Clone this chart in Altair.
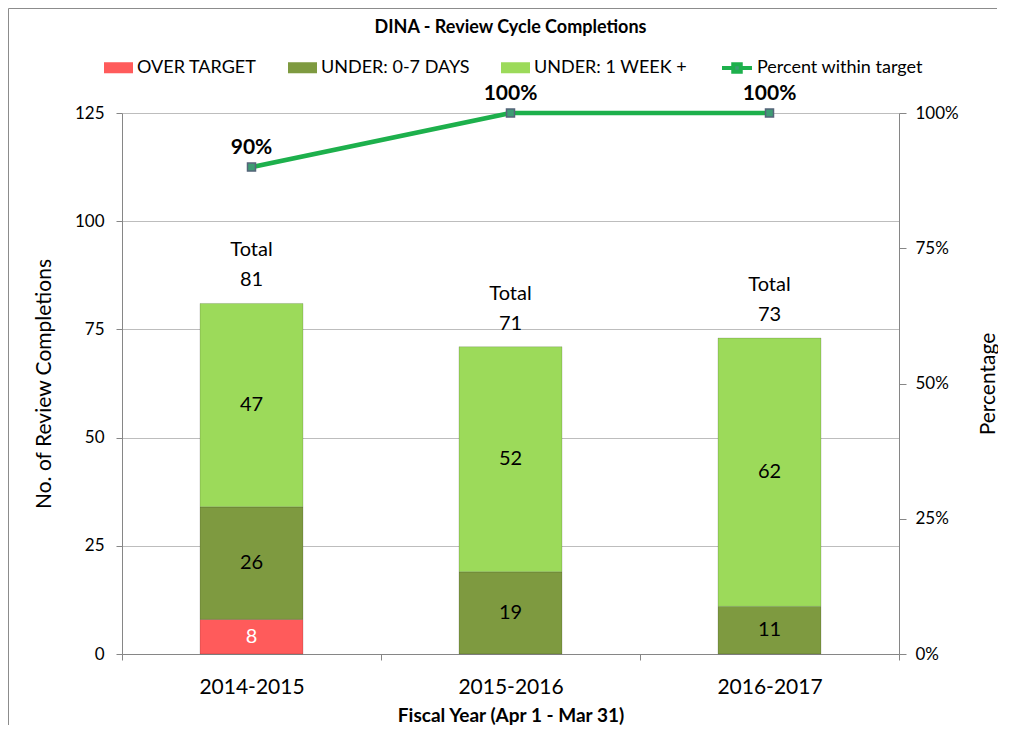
import altair as alt
import pandas as pd

# ---- data ----
years = ["2014-2015", "2015-2016", "2016-2017"]
categories = ["OVER TARGET", "UNDER: 0-7 DAYS", "UNDER: 1 WEEK +"]
over_target = [8, 0, 0]
under_0_7_days = [26, 19, 11]
under_1_week = [47, 52, 62]
totals = [81, 71, 73]
pct_within_target = [0.90, 1.00, 1.00]
line_series = "Percent within target"
chart_title = "DINA - Review Cycle Completions"

bar_colors = ["#FF5B5B", "#7E9A40", "#9CDA5A"]
line_color = "#1DB04C"
FONT = "Lato"

rows = []
for i, y in enumerate(years):
    for k, (cat, vals) in enumerate(zip(categories, [over_target, under_0_7_days, under_1_week])):
        if vals[i] > 0:
            rows.append({"year": y, "category": cat, "value": vals[i], "ord": k})
bars_df = pd.DataFrame(rows)
tot_df = pd.DataFrame({"year": years, "total": totals})
pct_df = pd.DataFrame({"year": years, "pct": pct_within_target, "series": [line_series] * 3})
title_df = pd.DataFrame({"t": [chart_title]})
one_df = pd.DataFrame({"a": [0]})

axis_gray = "#868686"
x_scale = alt.Scale(domain=years, paddingInner=0, paddingOuter=0)
y_scale = alt.Scale(domain=[0, 125], nice=False, zero=True)
p_scale = alt.Scale(domain=[0, 1], nice=False, zero=True)

x_axis = alt.Axis(
    title="Fiscal Year (Apr 1 - Mar 31)", titleFontSize=19, titleFontWeight="bold",
    titleX=388.5, titleY=61, titleBaseline="middle", titleAlign="center",
    labelFontSize=21, labelAngle=0, labelPadding=16, labelColor="#000",
    tickBand="extent", tickSize=6, tickColor=axis_gray, domainColor=axis_gray, grid=False,
)
x_enc = alt.X("year:N", sort=years, scale=x_scale, axis=x_axis)

bars = alt.Chart(bars_df).mark_bar(
    size=103, stroke="#000000", strokeOpacity=0.15, strokeWidth=1
).encode(
    x=x_enc,
    y=alt.Y("value:Q", stack="zero", scale=y_scale, axis=alt.Axis(
        values=[0, 25, 50, 75, 100, 125], title="No. of Review Completions",
        titleFontSize=21, titleFontWeight="normal", titleAngle=270,
        titleX=-78, titleY=270.5, titleBaseline="middle", titleAlign="center",
        labelFontSize=17, labelPadding=12, labelColor="#000",
        tickSize=6, tickColor=axis_gray, domainColor=axis_gray,
        grid=True, gridColor="#BDBDBD")),
    color=alt.Color("category:N", scale=alt.Scale(domain=categories, range=bar_colors),
                    legend=alt.Legend(
                        orient="none", legendX=-18, legendY=-60, direction="horizontal",
                        title=None, symbolType="M-1,-0.38H1V0.38H-1Z", symbolSize=841,
                        symbolStrokeWidth=0, labelFontSize=18, labelOffset=4,
                        columnPadding=31, labelColor="#000")),
    order=alt.Order("ord:Q"),
)

seg_labels = alt.Chart(bars_df).transform_stack(
    stack="value", groupby=["year"], as_=["v0", "v1"],
    sort=[alt.SortField("ord", order="ascending")],
).transform_calculate(mid="(datum.v0 + datum.v1) / 2").mark_text(
    fontSize=20, baseline="middle"
).encode(
    x=x_enc,
    y=alt.Y("mid:Q", scale=y_scale, axis=None),
    text=alt.Text("value:Q"),
    color=alt.condition("datum.category == 'OVER TARGET'", alt.value("#FFFFFF"), alt.value("#000000")),
)

total_labels = alt.Chart(tot_df).transform_calculate(
    label="'Total\\n' + datum.total"
).mark_text(
    fontSize=20, baseline="bottom", dy=-43, lineBreak="\n", lineHeight=30, color="#000"
).encode(
    x=x_enc,
    y=alt.Y("total:Q", scale=y_scale, axis=None),
    text=alt.Text("label:N"),
)

line = alt.Chart(pct_df).mark_line(strokeWidth=4.5).encode(
    x=x_enc,
    y=alt.Y("pct:Q", scale=p_scale, axis=alt.Axis(
        orient="right", format=".0%", values=[0, 0.25, 0.5, 0.75, 1],
        title="Percentage", titleFontSize=21, titleFontWeight="normal", titleAngle=270,
        titleX=89, titleY=270.5, titleBaseline="middle", titleAlign="center",
        labelFontSize=17, labelPadding=9, labelColor="#000",
        tickSize=7, tickColor=axis_gray, domainColor=axis_gray, grid=False)),
    stroke=alt.Stroke("series:N", scale=alt.Scale(domain=[line_series], range=[line_color]),
                      legend=alt.Legend(
                          orient="none", legendX=598, legendY=-62, title=None,
                          symbolType="M-1,0H-0.25M0.25,0H1M-0.25,-0.25H0.25V0.25H-0.25Z",
                          symbolSize=900, symbolStrokeWidth=4, symbolFillColor="#3E9C74",
                          labelFontSize=18, labelOffset=3, labelLimit=300, labelColor="#000")),
)

points = alt.Chart(pct_df).mark_point(
    shape="square", filled=True, size=64, fill="#3E9C74", stroke="#56647A",
    strokeWidth=1.5, opacity=1
).encode(
    x=x_enc,
    y=alt.Y("pct:Q", scale=p_scale, axis=None),
)

pct_labels = alt.Chart(pct_df).mark_text(
    fontSize=21, fontWeight="bold", baseline="middle", dy=-19, color="#000"
).encode(
    x=x_enc,
    y=alt.Y("pct:Q", scale=p_scale, axis=None),
    text=alt.Text("pct:Q", format=".0%"),
)

title_text = alt.Chart(title_df).mark_text(
    fontSize=18, fontWeight="bold", baseline="middle", align="center", color="#000"
).encode(
    x=alt.value(388.5), y=alt.value(-85), text=alt.Text("t:N"),
)

# chart-area border (left and top edges), kept inside the drawing
frame_left = alt.Chart(one_df).mark_rule(color="#8C8C8C", strokeWidth=1).encode(
    x=alt.value(-113.5), y=alt.value(-104.5), y2=alt.value(612),
)
frame_top = alt.Chart(one_df).mark_rule(color="#8C8C8C", strokeWidth=1).encode(
    x=alt.value(-113.5), x2=alt.value(875), y=alt.value(-104.5),
)

chart = alt.layer(
    frame_left, frame_top, bars, seg_labels, total_labels, line, points, pct_labels, title_text
).resolve_scale(
    y="independent", color="independent", stroke="independent"
).properties(
    width=777, height=541,
    padding={"left": 114, "top": 105, "right": 99, "bottom": 72},
    autosize=alt.AutoSizeParams(type="none"),
).configure(font=FONT).configure_view(stroke=None)

chart.save("out.html", embed_options={"renderer": "svg", "actions": False})
